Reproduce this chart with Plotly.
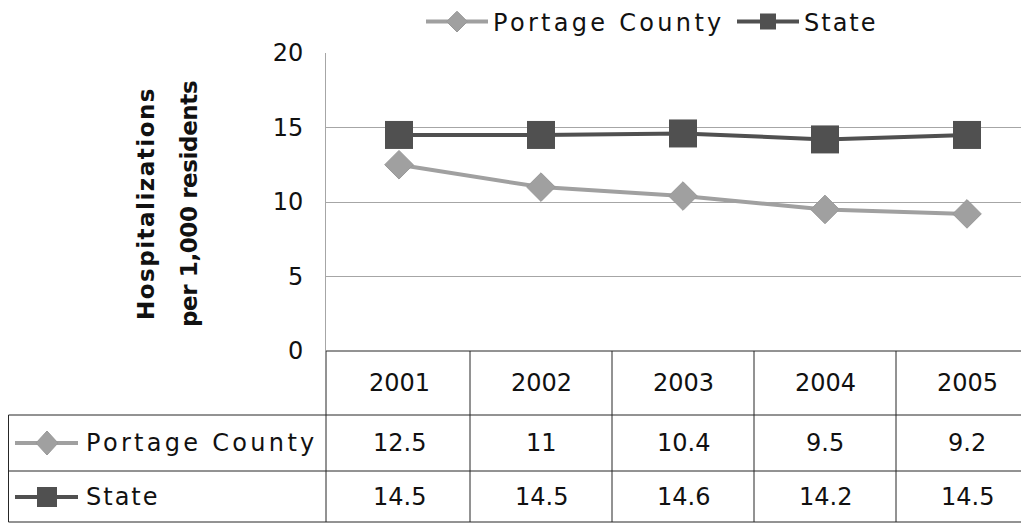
import plotly.graph_objects as go

years = ["2001", "2002", "2003", "2004", "2005"]
portage = [12.5, 11, 10.4, 9.5, 9.2]
state = [14.5, 14.5, 14.6, 14.2, 14.5]
series_names = ["Portage County", "State"]
y_ticks = [0, 5, 10, 15, 20]
axis_title = ["Hospitalizations", "per 1,000 residents"]

# figure size chosen so that the page (with its 8px body margin) fits the window
OFF = 8
W, H = 1013, 515
FONT = "DejaVu Sans"
FS = 24
TXT = "#111111"
C_PORT = "#a0a0a0"
C_STATE = "#505050"
GRID = "#a6a6a6"
TABLE = "#262626"
LS = {"Portage County": 3.3, "State": 2.0}


def px(x):
    """page pixel x -> paper fraction"""
    return (x - OFF) / W


def py(y):
    """page pixel y -> paper fraction"""
    return 1 - (y - OFF) / H


def spaced(s, ls):
    return f'<span style="letter-spacing:{ls}px">{s}</span>'


fig = go.Figure()
fig.add_trace(go.Scatter(
    x=list(range(len(years))), y=portage, name=spaced(series_names[0], LS[series_names[0]]),
    mode="lines+markers",
    line=dict(color=C_PORT, width=4),
    marker=dict(symbol="diamond", size=22, color=C_PORT, line=dict(color="#989898", width=1)),
))
fig.add_trace(go.Scatter(
    x=list(range(len(years))), y=state, name=spaced(series_names[1], LS[series_names[1]]),
    mode="lines+markers",
    line=dict(color=C_STATE, width=4),
    marker=dict(symbol="square", size=28, color=C_STATE),
))

# axis geometry (page pixels)
X_LEFT = 326
COL_W = 142
FIRST_C = 399
Y0, Y20 = 351, 53
x0 = -(FIRST_C - X_LEFT) / COL_W
x1 = x0 + (OFF + W - X_LEFT) / COL_W

fig.update_layout(
    width=W, height=H,
    margin=dict(l=0, r=0, t=0, b=0, autoexpand=False),
    paper_bgcolor="white", plot_bgcolor="white",
    font=dict(family=FONT, size=FS, color=TXT),
    showlegend=True,
    legend=dict(orientation="h", x=px(421), xanchor="left", y=py(22), yanchor="middle",
                font=dict(family=FONT, size=FS, color=TXT),
                itemwidth=62, tracegroupgap=0, bgcolor="rgba(0,0,0,0)",
                entrywidth=234, entrywidthmode="pixels"),
    xaxis=dict(domain=[px(X_LEFT), 1], range=[x0, x1], automargin=False,
               showticklabels=False, showgrid=False, zeroline=False, showline=False,
               ticks=""),
    yaxis=dict(domain=[py(Y0), py(Y20)], range=[0, 20], tickvals=y_ticks, automargin=False,
               showgrid=True, gridcolor=GRID, gridwidth=1,
               showline=True, linecolor=GRID, linewidth=1, zeroline=False,
               ticks="", ticklabelstandoff=17,
               tickfont=dict(family=FONT, size=FS, color=TXT)),
)

shapes = []
XR = 1.0
# table horizontal lines
shapes.append(dict(type="line", xref="paper", yref="paper", x0=px(X_LEFT), x1=XR,
                   y0=py(Y0), y1=py(Y0), line=dict(color=TABLE, width=1)))
for yy in [415, 471, 522]:
    shapes.append(dict(type="line", xref="paper", yref="paper", x0=px(8.5), x1=XR,
                       y0=py(yy), y1=py(yy), line=dict(color=TABLE, width=1)))
# table vertical lines
shapes.append(dict(type="line", xref="paper", yref="paper", x0=px(8.5), x1=px(8.5),
                   y0=py(415), y1=py(522), line=dict(color=TABLE, width=1)))
shapes.append(dict(type="line", xref="paper", yref="paper", x0=px(X_LEFT), x1=px(X_LEFT),
                   y0=py(Y0), y1=py(522), line=dict(color=TABLE, width=1)))
for i in range(len(years) - 1):
    shapes.append(dict(type="line", xref="x", yref="paper", x0=i + 0.5, x1=i + 0.5,
                       y0=py(Y0), y1=py(522), line=dict(color=TABLE, width=1)))

# legend keys inside the table
ROW1, ROW2 = 443, 497
shapes.append(dict(type="line", xref="paper", yref="paper", x0=px(15), x1=px(78),
                   y0=py(ROW1), y1=py(ROW1), line=dict(color=C_PORT, width=4)))
dx, dy = 11, 12
shapes.append(dict(type="path", xref="paper", yref="paper",
                   path=f"M {px(47-dx)},{py(ROW1)} L {px(47)},{py(ROW1-dy)} L {px(47+dx)},{py(ROW1)} L {px(47)},{py(ROW1+dy)} Z",
                   fillcolor=C_PORT, line=dict(color="#989898", width=1)))
shapes.append(dict(type="line", xref="paper", yref="paper", x0=px(15), x1=px(78),
                   y0=py(ROW2), y1=py(ROW2), line=dict(color=C_STATE, width=4)))
shapes.append(dict(type="rect", xref="paper", yref="paper", x0=px(37), x1=px(57),
                   y0=py(ROW2 + 10), y1=py(ROW2 - 10), fillcolor=C_STATE, line=dict(width=0)))
fig.update_layout(shapes=shapes)

ann = []
HEAD = 383
tf = dict(family=FONT, size=FS, color=TXT)
for i, yr in enumerate(years):
    ann.append(dict(x=i, xref="x", y=py(HEAD), yref="paper", text=yr, showarrow=False,
                    xanchor="center", yanchor="middle", font=tf))
    ann.append(dict(x=i, xref="x", y=py(ROW1), yref="paper", text=f"{portage[i]:g}", showarrow=False,
                    xanchor="center", yanchor="middle", font=tf))
    ann.append(dict(x=i, xref="x", y=py(ROW2), yref="paper", text=f"{state[i]:g}", showarrow=False,
                    xanchor="center", yanchor="middle", font=tf))
for nm, rowy in zip(series_names, [ROW1, ROW2]):
    ann.append(dict(x=px(84), xref="paper", xanchor="left", y=py(rowy), yref="paper", yanchor="middle",
                    text=spaced(nm, LS[nm]), showarrow=False, font=tf))
for k, (xc, ls) in enumerate([(146, 1.5), (189, -0.4)]):
    ann.append(dict(x=px(xc), xref="paper", xanchor="center", y=py(204), yref="paper",
                    yanchor="middle", textangle=-90,
                    text=f'<b><span style="letter-spacing:{ls}px">{axis_title[k]}</span></b>',
                    showarrow=False, font=dict(family=FONT, size=23, color=TXT)))
fig.update_layout(annotations=ann)

fig.write_html("out.html")
